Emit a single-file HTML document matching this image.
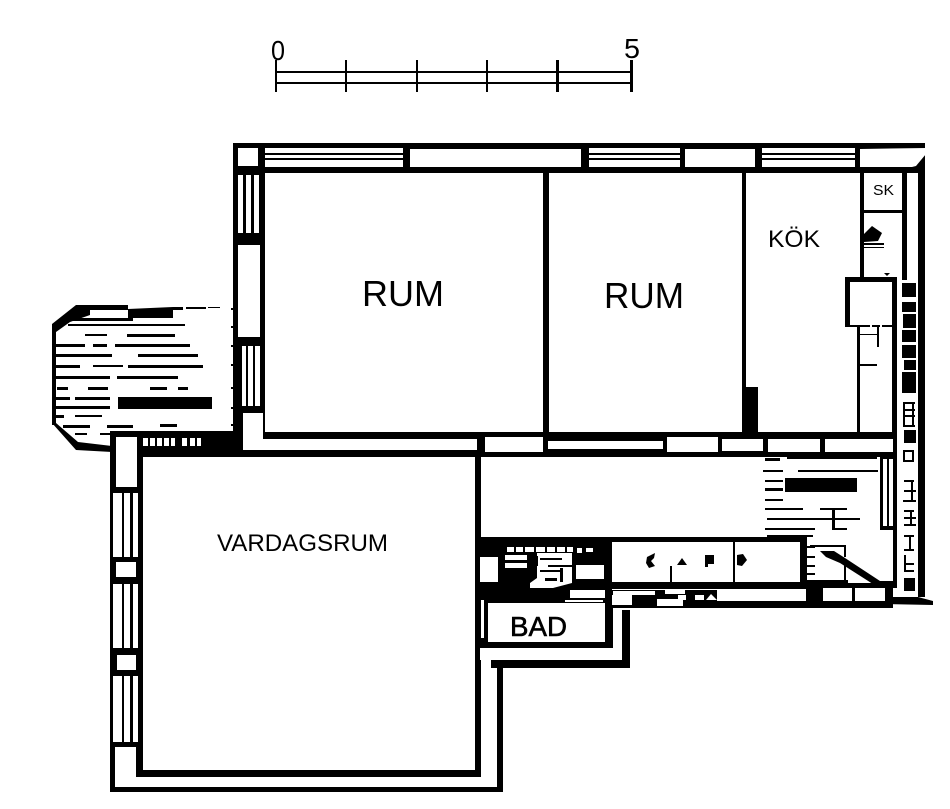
<!DOCTYPE html>
<html><head><meta charset="utf-8"><style>
html,body{margin:0;padding:0;background:#fff;width:950px;height:809px;overflow:hidden}
svg{display:block}
text{font-family:"Liberation Sans",sans-serif;fill:#000}
</style></head><body>
<svg width="950" height="809" viewBox="0 0 950 809" xmlns="http://www.w3.org/2000/svg">
<rect width="950" height="809" fill="#fff"/>
<!-- scale -->
<g fill="#000">
<rect x="276" y="71" width="356" height="2"/><rect x="276" y="82" width="356" height="2"/>
<rect x="275" y="60" width="2" height="32"/><rect x="345" y="60" width="2" height="32"/><rect x="416" y="60" width="2" height="32"/><rect x="486" y="60" width="2" height="32"/><rect x="556" y="60" width="3" height="32"/><rect x="630" y="60" width="3" height="32"/>
</g>
<text x="271" y="60" font-size="28" textLength="14" lengthAdjust="spacingAndGlyphs">0</text>
<text x="624" y="58" font-size="28" textLength="16" lengthAdjust="spacingAndGlyphs">5</text>

<!-- balcony -->
<g fill="#000">
<polygon points="76,305 128,305 128,309 173,307 173,318 128,318 128,310 90,310 90,315 70,322 56,332 52,328 52,324"/>
<rect x="173" y="307" width="10" height="3"/><rect x="186" y="307" width="20" height="2"/><rect x="208" y="307" width="12" height="1"/>
<rect x="52" y="325" width="4" height="100"/>
<polygon points="52,423 56,423 78,442 112,446 112,452 76,450"/>
<rect x="118" y="397" width="94" height="12"/>
<rect x="68" y="318" width="65" height="3"/>
<rect x="68" y="324" width="117" height="2"/>
<rect x="85" y="334" width="22" height="2"/><rect x="127" y="334" width="48" height="3"/>
<rect x="53" y="344" width="32" height="3"/><rect x="93" y="344" width="14" height="3"/><rect x="115" y="344" width="75" height="3"/>
<rect x="55" y="354" width="57" height="3"/><rect x="138" y="354" width="60" height="3"/>
<rect x="53" y="365" width="27" height="3"/><rect x="93" y="365" width="30" height="2"/><rect x="128" y="365" width="75" height="3"/>
<rect x="53" y="376" width="57" height="3"/><rect x="117" y="376" width="61" height="3"/>
<rect x="57" y="387" width="11" height="3"/><rect x="88" y="387" width="20" height="3"/><rect x="150" y="387" width="17" height="3"/><rect x="178" y="387" width="10" height="3"/>
<rect x="55" y="397" width="15" height="3"/><rect x="75" y="397" width="35" height="3"/>
<rect x="55" y="406" width="55" height="3"/>
<rect x="75" y="415" width="27" height="2"/><rect x="56" y="415" width="8" height="3"/>
<rect x="63" y="425" width="27" height="3"/><rect x="107" y="425" width="26" height="3"/><rect x="160" y="424" width="17" height="3"/>
<rect x="75" y="433" width="12" height="2"/><rect x="100" y="433" width="15" height="2"/>
<rect x="231" y="308" width="6" height="2"/><rect x="231" y="326" width="6" height="2"/><rect x="231" y="345" width="6" height="2"/><rect x="231" y="364" width="6" height="2"/><rect x="231" y="387" width="6" height="2"/><rect x="231" y="407" width="6" height="2"/><rect x="231" y="424" width="6" height="2"/>
</g>

<!-- main black walls -->
<g fill="#000">
<rect x="233" y="143" width="692" height="30"/>
<rect x="233" y="143" width="32" height="296"/>
<rect x="237" y="432" width="660" height="25"/>
<rect x="110" y="431" width="130" height="26"/>
<rect x="110" y="431" width="33" height="361"/>
<rect x="110" y="770" width="393" height="22"/>
<rect x="475" y="455" width="6" height="322"/>
<rect x="497" y="655" width="6" height="137"/>
<rect x="477" y="537" width="135" height="70"/>
<rect x="477" y="600" width="136" height="48"/>
<rect x="491" y="660" width="139" height="8"/>
<rect x="622" y="610" width="8" height="58"/>
<rect x="612" y="590" width="194" height="18"/>
<rect x="612" y="537" width="195" height="52"/>
<rect x="806" y="583" width="87" height="25"/>
<rect x="893" y="455" width="4" height="133"/>
<polygon points="885,597 918,597 933,601 933,605 884,604"/>
<rect x="885" y="585" width="8" height="18"/>
<polygon points="925,143 925,597 918,597 918,167"/>
<rect x="742" y="172" width="4" height="262"/>
<rect x="543" y="172" width="6" height="262"/>
</g>

<g fill="#fff">
<rect x="238" y="148" width="20" height="18"/>
<rect x="265" y="148" width="138" height="5"/><rect x="265" y="155" width="138" height="3"/><rect x="265" y="160" width="138" height="7"/>
<rect x="410" y="149" width="171" height="18"/>
<rect x="589" y="148" width="91" height="5"/><rect x="589" y="155" width="91" height="3"/><rect x="589" y="160" width="91" height="7"/>
<rect x="685" y="149" width="70" height="18"/>
<rect x="762" y="148" width="93" height="5"/><rect x="762" y="155" width="93" height="3"/><rect x="762" y="160" width="93" height="7"/>
<polygon points="860,149 926,148 926,154 916,166 912,167 860,167"/>
<rect x="238" y="175" width="5" height="58"/><rect x="246" y="175" width="5" height="58"/><rect x="254" y="175" width="5" height="58"/>
<rect x="238" y="245" width="22" height="92"/>
<rect x="242" y="346" width="4" height="60"/><rect x="248" y="346" width="5" height="60"/><rect x="255" y="346" width="5" height="60"/>
<rect x="243" y="413" width="20" height="25"/>
<rect x="243" y="426" width="20" height="24"/>
<rect x="265" y="173" width="278" height="259"/>
<rect x="549" y="173" width="193" height="259"/>
<rect x="746" y="173" width="146" height="259"/>
<rect x="897" y="173" width="21" height="424"/>
<rect x="255" y="439" width="222" height="11"/>
<rect x="485" y="437" width="58" height="15"/>
<rect x="548" y="441" width="115" height="8"/>
<rect x="667" y="437" width="51" height="15"/>
<rect x="722" y="439" width="41" height="12"/>
<rect x="768" y="439" width="52" height="13"/>
<rect x="825" y="439" width="68" height="13"/>
<rect x="116" y="437" width="21" height="50"/>
<rect x="143" y="438" width="5" height="8"/><rect x="150" y="438" width="5" height="8"/><rect x="157" y="438" width="5" height="8"/><rect x="164" y="438" width="5" height="8"/><rect x="171" y="438" width="4" height="8"/><rect x="182" y="438" width="5" height="8"/><rect x="190" y="438" width="5" height="8"/><rect x="197" y="438" width="4" height="8"/>
<rect x="113" y="493" width="9" height="64"/><rect x="124" y="493" width="6" height="64"/><rect x="133" y="493" width="5" height="64"/>
<rect x="116" y="562" width="20" height="15"/>
<rect x="113" y="584" width="9" height="64"/><rect x="124" y="584" width="6" height="64"/><rect x="133" y="584" width="5" height="64"/>
<rect x="117" y="655" width="19" height="15"/>
<rect x="113" y="676" width="9" height="66"/><rect x="124" y="676" width="6" height="66"/><rect x="133" y="676" width="5" height="66"/>
<rect x="115" y="747" width="21" height="40"/>
<rect x="115" y="777" width="382" height="10"/>
<rect x="143" y="457" width="332" height="313"/>
<rect x="481" y="457" width="412" height="80"/>
<rect x="807" y="537" width="86" height="46"/>
<!-- bath specks -->
<rect x="480" y="557" width="18" height="25"/>
<rect x="507" y="547" width="7" height="5"/><rect x="516" y="547" width="7" height="5"/><rect x="525" y="547" width="9" height="5"/><rect x="536" y="547" width="9" height="5"/><rect x="547" y="547" width="8" height="5"/><rect x="557" y="547" width="8" height="5"/><rect x="567" y="547" width="6" height="5"/><rect x="577" y="548" width="5" height="5"/><rect x="586" y="548" width="7" height="4"/>
<rect x="505" y="555" width="22" height="5"/><rect x="505" y="563" width="22" height="5"/>
<polygon points="537,553 572,553 572,583 553,588 530,588 530,583 537,578"/>
<rect x="576" y="565" width="28" height="14"/>
<rect x="570" y="590" width="35" height="8"/><rect x="565" y="600" width="38" height="2"/>
<rect x="488" y="603" width="117" height="39"/>
<rect x="480" y="648" width="133" height="12"/>
<rect x="481" y="660" width="10" height="8"/>
<rect x="481" y="668" width="16" height="102"/>
<rect x="481" y="770" width="16" height="17"/>
<rect x="481" y="600" width="3" height="38"/>
<rect x="613" y="608" width="9" height="52"/>
<!-- cabinets -->
<rect x="612" y="542" width="121" height="40"/>
<rect x="735" y="542" width="65" height="40"/>
<rect x="613" y="591" width="42" height="4"/><rect x="612" y="595" width="20" height="10"/><rect x="657" y="599" width="26" height="7"/><rect x="665" y="590" width="20" height="4"/>
<rect x="678" y="595" width="8" height="5"/><rect x="695" y="595" width="9" height="5"/>
<polygon points="706,600 711,594 717,600"/>
<rect x="717" y="589" width="89" height="12"/>
<rect x="823" y="588" width="29" height="13"/><rect x="855" y="588" width="30" height="13"/>
</g>

<!-- kitchen -->
<g fill="#000">
<rect x="902" y="172" width="5" height="108"/>
<rect x="860" y="172" width="4" height="108"/>
<rect x="860" y="210" width="45" height="3"/>
<rect x="845" y="277" width="52" height="5"/>
<rect x="845" y="277" width="5" height="50"/>
<rect x="892" y="277" width="5" height="158"/>
<rect x="857" y="327" width="3" height="107"/>
<rect x="850" y="325" width="20" height="2"/><rect x="872" y="325" width="8" height="2"/><rect x="882" y="325" width="10" height="2"/>
<rect x="743" y="387" width="15" height="48"/>
<polygon points="864,234 872,226 882,233 878,241 864,242"/>
<rect x="864" y="243" width="20" height="2"/><rect x="864" y="247" width="20" height="1"/>
<polygon points="884,273 890,273 887,276"/>
<rect x="877" y="327" width="2" height="20"/><rect x="860" y="334" width="17" height="1"/><rect x="860" y="364" width="17" height="2"/>
<!-- hall details -->
<rect x="785" y="478" width="72" height="14"/>
<rect x="765" y="458" width="15" height="3"/><rect x="787" y="456" width="90" height="3"/>
<rect x="763" y="470" width="20" height="2"/><rect x="798" y="470" width="80" height="2"/>
<rect x="765" y="480" width="18" height="2"/><rect x="765" y="488" width="18" height="3"/>
<rect x="765" y="499" width="18" height="2"/>
<rect x="765" y="508" width="38" height="2"/><rect x="820" y="508" width="27" height="2"/>
<rect x="767" y="518" width="93" height="2"/>
<rect x="832" y="508" width="3" height="22"/>
<rect x="765" y="528" width="50" height="2"/><rect x="832" y="528" width="15" height="2"/>
<rect x="767" y="535" width="46" height="2"/>
<rect x="880" y="457" width="3" height="73"/><rect x="887" y="457" width="2" height="70"/><rect x="880" y="526" width="13" height="4"/><rect x="880" y="457" width="13" height="2"/>
<rect x="802" y="546" width="13" height="2"/><rect x="802" y="556" width="13" height="2"/><rect x="802" y="565" width="13" height="2"/><rect x="802" y="573" width="13" height="2"/>
<rect x="810" y="545" width="35" height="2"/>
<polygon points="820,551 834,551 845,558 880,581 893,581 893,586 876,586 840,563 826,557"/>
<rect x="844" y="545" width="2" height="12"/><rect x="844" y="565" width="2" height="18"/>
<rect x="802" y="580" width="46" height="3"/>
<!-- cabinet marks -->
<polygon points="647,557 655,553 654,558 651,561 655,566 649,568 646,563"/>
<polygon points="677,565 682,558 687,565"/>
<rect x="670" y="566" width="2" height="17"/>
<rect x="705" y="555" width="9" height="9"/><rect x="705" y="555" width="3" height="12"/>
<rect x="733" y="540" width="2" height="43"/>
<polygon points="737,555 743,554 747,560 742,566 737,565"/>
<!-- bath details inside white -->
<rect x="540" y="558" width="22" height="2"/><rect x="548" y="565" width="24" height="2"/><rect x="540" y="570" width="22" height="2"/><rect x="560" y="568" width="3" height="14"/><rect x="530" y="556" width="8" height="10"/><rect x="545" y="578" width="12" height="3"/>
<!-- hatch column -->
<rect x="902" y="283" width="14" height="14"/><rect x="902" y="302" width="14" height="10"/><rect x="903" y="314" width="13" height="14"/><rect x="902" y="330" width="14" height="12"/>
<rect x="902" y="345" width="14" height="13"/><rect x="904" y="360" width="12" height="10"/><rect x="902" y="372" width="14" height="21"/>
<rect x="903" y="402" width="12" height="2"/><rect x="903" y="402" width="2" height="15"/><rect x="912" y="402" width="2" height="15"/><rect x="903" y="409" width="12" height="2"/><rect x="903" y="415" width="12" height="2"/>
<rect x="903" y="417" width="2" height="10"/><rect x="912" y="417" width="2" height="10"/><rect x="903" y="425" width="12" height="2"/>
<rect x="904" y="430" width="12" height="13"/>
<rect x="903" y="450" width="11" height="2"/><rect x="903" y="450" width="2" height="12"/><rect x="912" y="450" width="2" height="12"/><rect x="903" y="460" width="11" height="2"/>
<rect x="904" y="480" width="10" height="2"/><rect x="911" y="480" width="2" height="22"/><rect x="903" y="500" width="13" height="2"/><rect x="904" y="490" width="12" height="2"/>
<rect x="904" y="510" width="10" height="2"/><rect x="910" y="510" width="2" height="14"/><rect x="904" y="517" width="12" height="2"/><rect x="904" y="524" width="12" height="2"/>
<rect x="904" y="535" width="10" height="2"/><rect x="909" y="535" width="2" height="16"/><rect x="904" y="549" width="10" height="2"/>
<rect x="904" y="555" width="2" height="16"/><rect x="904" y="563" width="10" height="2"/><rect x="904" y="570" width="10" height="2"/>
<rect x="904" y="578" width="11" height="13"/>
</g>

<!-- labels -->
<text x="362" y="306" font-size="36" textLength="82" lengthAdjust="spacingAndGlyphs">RUM</text>
<text x="604" y="308" font-size="36" textLength="80" lengthAdjust="spacingAndGlyphs">RUM</text>
<text x="768" y="247" font-size="24.5" textLength="52" lengthAdjust="spacingAndGlyphs">KÖK</text>
<text x="217" y="551" font-size="24.5" textLength="171" lengthAdjust="spacingAndGlyphs">VARDAGSRUM</text>
<text x="510" y="636" font-size="27.5" textLength="57" lengthAdjust="spacingAndGlyphs" stroke="#000" stroke-width="0.6">BAD</text>
<text x="873" y="195" font-size="15" textLength="21" lengthAdjust="spacingAndGlyphs">SK</text>
</svg>
</body></html>
